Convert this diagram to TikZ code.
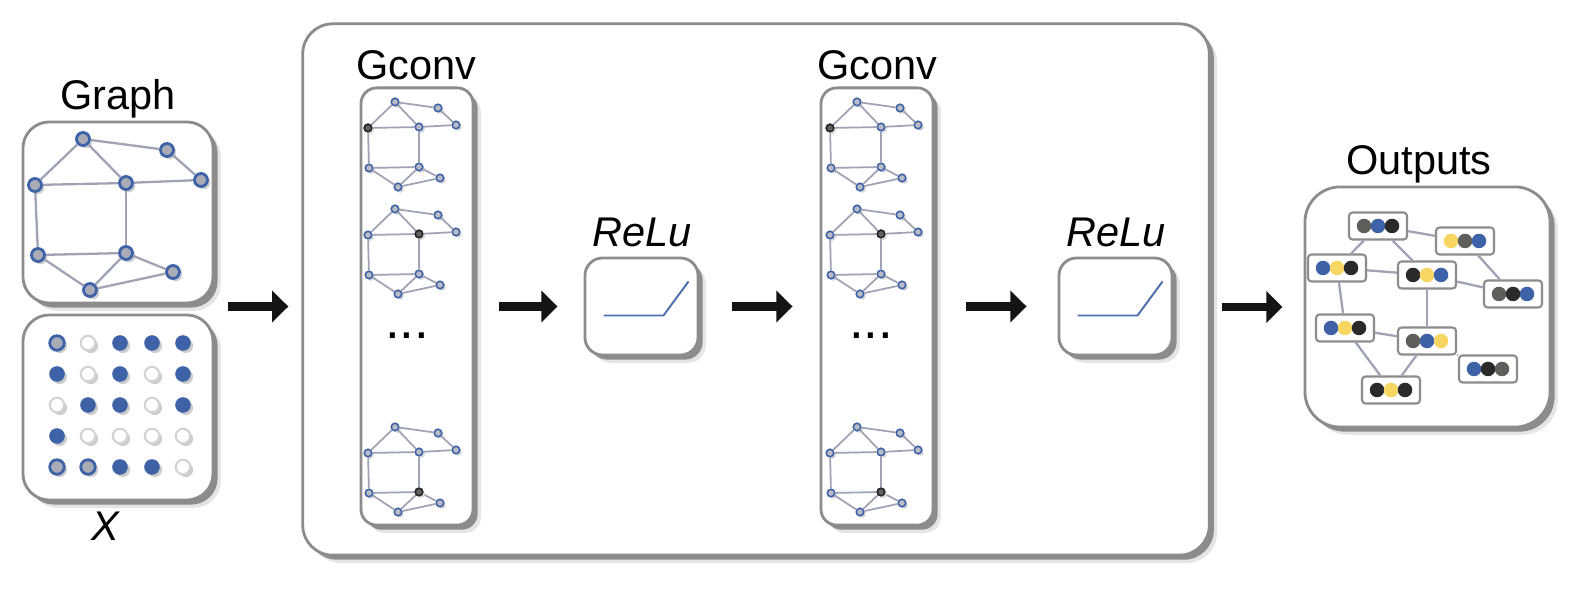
\documentclass[tikz,border=0pt]{standalone}
\usepackage{fontspec}
\setmainfont{Liberation Sans}
\usetikzlibrary{shapes, arrows.meta, calc, positioning, shadows}

\definecolor{boxline}{HTML}{8C8C8C}
\definecolor{shadowgray}{HTML}{8E8B8B}
\definecolor{edgegray}{HTML}{9FA3B5}
\definecolor{nodeblue}{HTML}{3D62A8}
\definecolor{nodegray}{HTML}{A9ABB6}
\definecolor{ringgray}{HTML}{D2D2D8}
\definecolor{featyellow}{HTML}{F7D762}
\definecolor{featblack}{HTML}{2A2A2A}
\definecolor{featgray}{HTML}{5E5E5A}
\definecolor{relublue}{HTML}{4A6FB0}
\newcommand{\labelsize}{\fontsize{11.8}{14}\selectfont}

% small copy of the input graph: prefix, top left corner, dark node
\newcommand{\minigraph}[4]{
    \begin{scope}[shift={(#2,#3)}]
    \node[mini] (#1a) at (27,0) {};
    \node[mini] (#1b) at (70,6) {};
    \node[mini] (#1c) at (0,26) {};
    \node[mini] (#1d) at (51,25) {};
    \node[mini] (#1e) at (88,23) {};
    \node[mini] (#1f) at (1,66) {};
    \node[mini] (#1g) at (51,65) {};
    \node[mini] (#1h) at (72,76) {};
    \node[mini] (#1i) at (30,85) {};

    \draw [minilink] (#1a) -- (#1b);
    \draw [minilink] (#1b) -- (#1e);
    \draw [minilink] (#1a) -- (#1c);
    \draw [minilink] (#1a) -- (#1d);
    \draw [minilink] (#1c) -- (#1d);
    \draw [minilink] (#1d) -- (#1e);
    \draw [minilink] (#1c) -- (#1f);
    \draw [minilink] (#1d) -- (#1g);
    \draw [minilink] (#1f) -- (#1g);
    \draw [minilink] (#1f) -- (#1i);
    \draw [minilink] (#1g) -- (#1i);
    \draw [minilink] (#1g) -- (#1h);
    \draw [minilink] (#1h) -- (#1i);

    \node[mini, minidark] (#1hot) at (#1#4) {};
    \end{scope}
}

% one output node with its three feature dots
\newcommand{\featnode}[6]{
    \node[featbox] (#1) at (#2,#3) {};
    \node[feat, fill=#4] (#1-1) at (#2-14,#3) {};
    \node[feat, fill=#5] (#1-2) at (#2,#3) {};
    \node[feat, fill=#6] (#1-3) at (#2+14,#3) {};
}

\begin{document}
\begin{tikzpicture}[x=0.01cm, y=-0.01cm,
    panel/.style={draw=boxline, line width=0.8pt, fill=white, rounded corners=#1,
        general shadow={shadow xshift=2.2pt, shadow yshift=-2.2pt, fill=black!10},
        general shadow={shadow xshift=1.3pt, shadow yshift=-1.3pt, fill=shadowgray}},
    lbl/.style={font=\labelsize, anchor=base, inner sep=0pt},
    gnode/.style={circle, draw=nodeblue, line width=0.8pt, fill=nodegray, minimum size=0.13cm, inner sep=0pt,
        general shadow={shadow xshift=0.8pt, shadow yshift=-0.8pt, fill=black!18}},
    glink/.style={draw=edgegray, line width=0.65pt},
    mini/.style={circle, draw=nodeblue, line width=0.45pt, fill=nodegray!80, minimum size=0.075cm, inner sep=0pt,
        general shadow={shadow xshift=0.6pt, shadow yshift=-0.6pt, fill=black!15}},
    minidark/.style={fill=black!62, draw=black!85},
    minilink/.style={draw=edgegray, line width=0.5pt},
    xon/.style={circle, fill=nodeblue, draw=nodeblue, line width=0.3pt, minimum size=0.145cm, inner sep=0pt,
        general shadow={shadow xshift=0.8pt, shadow yshift=-0.8pt, fill=black!20}},
    xoff/.style={xon, fill=white, draw=ringgray, line width=0.6pt},
    xmid/.style={xon, fill=nodegray, draw=nodeblue, line width=0.8pt},
    featbox/.style={draw=boxline, line width=0.6pt, fill=white, rounded corners=1pt,
        minimum width=0.58cm, minimum height=0.27cm, inner sep=0pt},
    feat/.style={circle, minimum size=0.145cm, inner sep=0pt, draw=none},
    flow/.style={-{Triangle[length=4.6pt, width=8.8pt]}, line width=2.3pt, draw=black!92},
    reluline/.style={draw=relublue, line width=0.55pt}]

    \useasboundingbox (0,0) rectangle (1586,598);

    % boxes
    \node[panel=8.5pt, minimum width=9.06cm, minimum height=5.31cm] (layers) at (756,289.5) {};
    \node[panel=7.5pt, minimum width=1.9cm, minimum height=1.81cm] (graphbox) at (118,212.5) {};
    \node[panel=7.5pt, minimum width=1.9cm, minimum height=1.85cm] (xbox) at (118,407.5) {};
    \node[panel=4.5pt, minimum width=1.12cm, minimum height=4.37cm] (gconvA) at (417,306.5) {};
    \node[panel=4.5pt, minimum width=1.12cm, minimum height=4.37cm] (gconvB) at (877,306.5) {};
    \node[panel=5pt, minimum width=1.13cm, minimum height=0.97cm] (reluA) at (641.5,306.5) {};
    \node[panel=5pt, minimum width=1.13cm, minimum height=0.97cm] (reluB) at (1115.5,306.5) {};
    \node[panel=10pt, minimum width=2.45cm, minimum height=2.4cm] (outbox) at (1427.5,307) {};

    % labels
    \node[lbl] (graphlbl) at (118,110) {Graph};
    \node[lbl] (xlbl) at (105,541) {\itshape X};
    \node[lbl] (gconvlblA) at (416,80) {Gconv};
    \node[lbl] (gconvlblB) at (877,80) {Gconv};
    \node[lbl] (relulblA) at (642,247) {\itshape ReLu};
    \node[lbl] (relulblB) at (1116,247) {\itshape ReLu};
    \node[lbl] (outlbl) at (1419,175) {Outputs};

    % input graph
    \node[gnode] (a) at (83,139) {};
    \node[gnode] (b) at (167,150) {};
    \node[gnode] (c) at (35,185) {};
    \node[gnode] (d) at (126,183) {};
    \node[gnode] (e) at (201,180) {};
    \node[gnode] (f) at (38,255) {};
    \node[gnode] (g) at (126,253) {};
    \node[gnode] (h) at (173,272) {};
    \node[gnode] (i) at (90,290) {};

    \draw [glink] (a) -- (b);
    \draw [glink] (b) -- (e);
    \draw [glink] (a) -- (c);
    \draw [glink] (a) -- (d);
    \draw [glink] (c) -- (d);
    \draw [glink] (d) -- (e);
    \draw [glink] (c) -- (f);
    \draw [glink] (d) -- (g);
    \draw [glink] (f) -- (g);
    \draw [glink] (f) -- (i);
    \draw [glink] (g) -- (i);
    \draw [glink] (g) -- (h);
    \draw [glink] (h) -- (i);

    % feature matrix X
    \node[xmid] (x11) at (57,343) {};
    \node[xoff] (x12) at (88,343) {};
    \node[xon] (x13) at (120,343) {};
    \node[xon] (x14) at (152,343) {};
    \node[xon] (x15) at (183,343) {};
    \node[xon] (x21) at (57,374) {};
    \node[xoff] (x22) at (88,374) {};
    \node[xon] (x23) at (120,374) {};
    \node[xoff] (x24) at (152,374) {};
    \node[xon] (x25) at (183,374) {};
    \node[xoff] (x31) at (57,405) {};
    \node[xon] (x32) at (88,405) {};
    \node[xon] (x33) at (120,405) {};
    \node[xoff] (x34) at (152,405) {};
    \node[xon] (x35) at (183,405) {};
    \node[xon] (x41) at (57,436) {};
    \node[xoff] (x42) at (88,436) {};
    \node[xoff] (x43) at (120,436) {};
    \node[xoff] (x44) at (152,436) {};
    \node[xoff] (x45) at (183,436) {};
    \node[xmid] (x51) at (57,467) {};
    \node[xmid] (x52) at (88,467) {};
    \node[xon] (x53) at (120,467) {};
    \node[xon] (x54) at (152,467) {};
    \node[xoff] (x55) at (183,467) {};

    % graph convolutions
    \minigraph{pa}{368}{102}{c}
    \minigraph{pb}{368}{209}{d}
    \minigraph{pc}{368}{427}{g}
    \node[font=\fontsize{15}{15}\selectfont, anchor=base, inner sep=0pt] (moreA) at (407,338.5) {...};

    \minigraph{qa}{830}{102}{c}
    \minigraph{qb}{830}{209}{d}
    \minigraph{qc}{830}{427}{g}
    \node[font=\fontsize{15}{15}\selectfont, anchor=base, inner sep=0pt] (moreB) at (871,338.5) {...};

    % activations
    \draw [reluline] ([shift={(-38,9)}]reluA.center) -- ++(60,0) -- ++(25,-34);
    \draw [reluline] ([shift={(-38,9)}]reluB.center) -- ++(60,0) -- ++(25,-34);

    % outputs
    \featnode{o1}{1378}{226}{featgray}{nodeblue}{featblack}
    \featnode{o2}{1465}{241}{featyellow}{featgray}{nodeblue}
    \featnode{o3}{1337}{268}{nodeblue}{featyellow}{featblack}
    \featnode{o4}{1427}{275}{featblack}{featyellow}{nodeblue}
    \featnode{o5}{1513}{294}{featgray}{featblack}{nodeblue}
    \featnode{o6}{1345}{328}{nodeblue}{featyellow}{featblack}
    \featnode{o7}{1427}{341}{featgray}{nodeblue}{featyellow}
    \featnode{o8}{1488}{369}{nodeblue}{featblack}{featgray}
    \featnode{o9}{1391}{390}{featblack}{featyellow}{featblack}

    \draw [glink] (o1) -- (o2);
    \draw [glink] (o1) -- (o3);
    \draw [glink] (o1) -- (o4);
    \draw [glink] (o3) -- (o4);
    \draw [glink] (o2) -- (o5);
    \draw [glink] (o4) -- (o5);
    \draw [glink] (o3) -- (o6);
    \draw [glink] (o4) -- (o7);
    \draw [glink] (o6) -- (o7);
    \draw [glink] (o6) -- (o9);
    \draw [glink] (o7) -- (o9);
    \draw [glink] (o7) -- (o8);

    % arrows
    \draw [flow, shorten <=0.14cm, shorten >=0.13cm] (graphbox.east |- gconvA) -- (layers.west |- gconvA);
    \draw [flow, shorten <=0.25cm, shorten >=0.26cm] (gconvA) -- (reluA);
    \draw [flow, shorten <=0.33cm, shorten >=0.27cm] (reluA) -- (gconvB);
    \draw [flow, shorten <=0.32cm, shorten >=0.31cm] (gconvB) -- (reluB);
    \draw [flow, shorten <=0.11cm, shorten >=0.21cm] (layers.east |- outbox) -- (outbox);
\end{tikzpicture}
\end{document}
